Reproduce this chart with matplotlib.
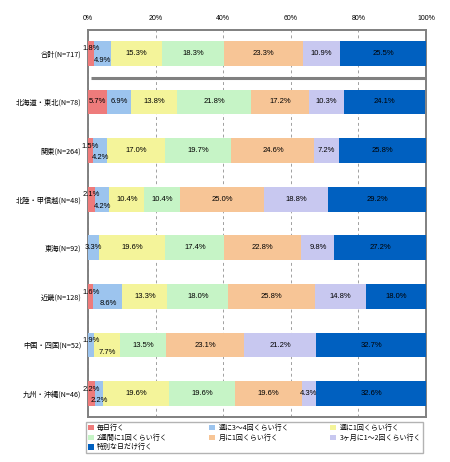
import numpy as np
import matplotlib
matplotlib.use("Agg")
import matplotlib.pyplot as plt
from matplotlib.patches import Patch

# rows: total + regions (top to bottom)
regions = ["合計(N=717)", "北海道・東北(N=78)", "関東(N=264)", "北陸・甲信越(N=48)",
           "東海(N=92)", "近畿(N=128)", "中国・四国(N=52)", "九州・沖縄(N=46)"]
answers = ["毎日行く", "週に3～4回くらい行く", "週に1回くらい行く",
           "2週間に1回くらい行く", "月に1回くらい行く", "3ヶ月に1～2回くらい行く",
           "特別な日だけ行く"]

# share (%) per row, one list per answer
daily     = [1.8, 5.7, 1.5, 2.1, 0.0, 1.6, 0.0, 2.2]
week3_4   = [4.9, 6.9, 4.2, 4.2, 3.3, 8.6, 1.9, 2.2]
week1     = [15.3, 13.8, 17.0, 10.4, 19.6, 13.3, 7.7, 19.6]
biweekly  = [18.3, 21.8, 19.7, 10.4, 17.4, 18.0, 13.5, 19.6]
monthly   = [23.3, 17.2, 24.6, 25.0, 22.8, 25.8, 23.1, 19.6]
quarterly = [10.9, 10.3, 7.2, 18.8, 9.8, 14.8, 21.2, 4.3]
special   = [25.5, 24.1, 25.8, 29.2, 27.2, 18.0, 32.7, 32.6]

series = [daily, week3_4, week1, biweekly, monthly, quarterly, special]
colors = ["#EE7B7B", "#9CC4EE", "#F4F49A", "#C6F4C6", "#F7C596", "#C8C8F0", "#0060C0"]
xticks = [0, 20, 40, 60, 80, 100]

CJK = ["Noto Sans CJK JP", "DejaVu Sans"]
NUM = ["Liberation Sans Narrow", "Liberation Sans", "DejaVu Sans"]

fig = plt.figure(figsize=(4.5, 4.62), dpi=100)
ax = fig.add_axes([0.1956, 0.0974, 0.7511, 0.8377])

y = np.arange(len(regions))
left = np.zeros(len(regions))
for vals, col in zip(series, colors):
    vals = np.array(vals)
    ax.barh(y, vals, left=left, height=0.51, color=col, edgecolor="none", zorder=3)
    left += vals

# value labels; tiny first segments get pushed up, the next one down
for i in range(len(regions)):
    start = 0.0
    prev_up = False
    for vals in series:
        v = vals[i]
        if v <= 0:
            continue
        xc = start + v / 2
        dy = 0.0
        if prev_up:
            dy = 0.15
            prev_up = False
        elif v < 3:
            dy = -0.09
            prev_up = True
        ax.text(xc, y[i] + dy, f"{v:.1f}%", ha="center", va="center",
                fontsize=5.5, family=NUM, color="black", zorder=5, clip_on=False)
        start += v

# separator between total and regions
ax.plot([1, 100], [0.5, 0.5], color="#808080", lw=2.2, zorder=4, solid_capstyle="butt")

ax.set_xlim(0, 100)
ax.set_ylim(len(regions) - 0.52, -0.48)
ax.set_xticks(xticks)
ax.set_xticklabels([f"{t}%" for t in xticks], family=NUM, fontsize=5)
ax.xaxis.tick_top()
ax.tick_params(axis="x", length=0, pad=6)
ax.set_yticks(y)
ax.set_yticklabels(regions, family=CJK, fontsize=5.2)
ax.tick_params(axis="y", length=0, pad=5)
ax.grid(axis="x", color="#A0A0A0", ls=(0, (3, 3)), lw=0.7, zorder=0)
for sp in ax.spines.values():
    sp.set_color("#808080")
    sp.set_linewidth(1.4)

handles = [Patch(facecolor=c, edgecolor="none") for c in colors]
order = [0, 3, 6, 1, 4, 2, 5]
leg = fig.legend([handles[k] for k in order], [answers[k] for k in order],
                 ncol=3, loc="upper left", bbox_to_anchor=(0.191, 0.087, 0.749, 0.0),
                 mode="expand", prop={"family": CJK, "size": 5},
                 frameon=True, fancybox=False, handlelength=0.8, handleheight=0.8,
                 handletextpad=0.5, labelspacing=0.25, borderpad=0.3,
                 borderaxespad=0.0, columnspacing=1.0)
leg.get_frame().set_edgecolor("#A0A0A0")
leg.get_frame().set_linewidth(1.0)

fig.savefig("out.png", dpi=100)
